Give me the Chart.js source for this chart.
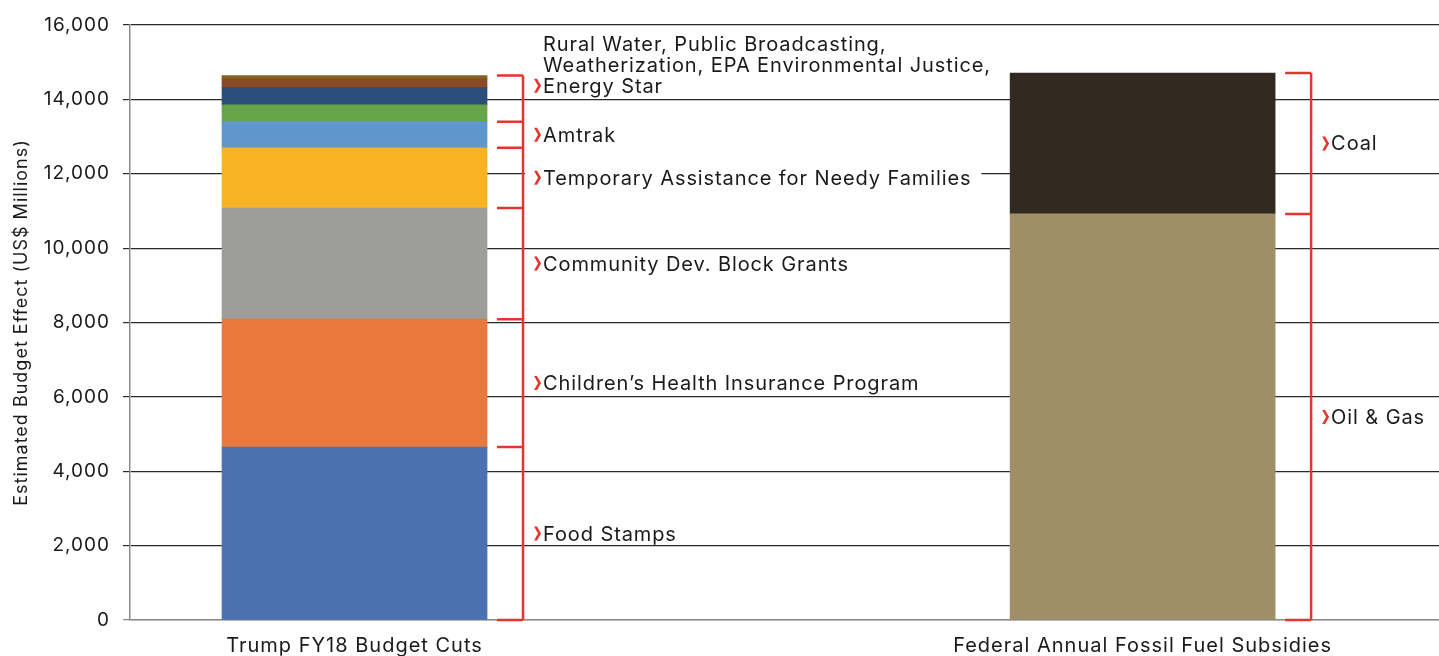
<!DOCTYPE html>
<html>
<head>
<meta charset="utf-8">
<script src="https://cdn.jsdelivr.net/npm/chart.js@4"></script>
<style>
  html, body { margin: 0; padding: 0; background: #fff; }
</style>
</head>
<body>
<canvas id="myChart" width="1439" height="656"></canvas>
<script>
// Two stacked columns: proposed FY18 cuts vs. annual fossil fuel subsidies (US$ millions)
const categories = ['Trump FY18 Budget Cuts', 'Federal Annual Fossil Fuel Subsidies'];

const budgetCutPrograms = ['Food Stamps', 'Children\u2019s Health Insurance Program', 'Community Dev. Block Grants',
    'Temporary Assistance for Needy Families', 'Amtrak', 'Rural Water', 'Public Broadcasting',
    'Weatherization', 'EPA Environmental Justice, Energy Star'];
const budgetCutValues = [4650, 3440, 2990, 1620, 700, 450, 465, 235, 90];
const budgetCutColors = ['#4a72b0', '#e8783e', '#9d9d9b', '#f9b224', '#5e97cc', '#67a348', '#2b4e78', '#8b4a22', '#806322'];

const subsidySources = ['Oil & Gas', 'Coal'];
const subsidyValues = [10920, 3790];
const subsidyColors = ['#a08e68', '#322a20'];

const yTicks = [0, 2000, 4000, 6000, 8000, 10000, 12000, 14000, 16000];

// bracket labels: which segments each bracket spans, and the text beside it
const cutLabels = [
    { from: 0, to: 0, text: ['Food Stamps'] },
    { from: 1, to: 1, text: ['Children\u2019s Health Insurance Program'] },
    { from: 2, to: 2, text: ['Community Dev. Block Grants'] },
    { from: 3, to: 3, text: ['Temporary Assistance for Needy Families'] },
    { from: 4, to: 4, text: ['Amtrak'] },
    { from: 5, to: 8, text: ['Rural Water, Public Broadcasting,', 'Weatherization, EPA Environmental Justice,', 'Energy Star'] }
];
const subsidyLabels = [
    { from: 0, to: 0, text: ['Oil & Gas'] },
    { from: 1, to: 1, text: ['Coal'] }
];

// the columns sit on a linear x axis so they can be spaced unevenly
const columnSlots = [1, 4.51];
const xMax = 5.83;
const barWidth = 265;

const fontFamily = 'Inter, "Open Sans", sans-serif';
const textColor = '#1a1a1a';
const bracketRed = '#e2362f';

function buildDatasets() {
    let datasets = [];
    budgetCutValues.forEach((v, i) => {
        datasets.push({
            label: budgetCutPrograms[i],
            data: [{ x: columnSlots[0], y: v }],
            backgroundColor: budgetCutColors[i]
        });
    });
    subsidyValues.forEach((v, i) => {
        datasets.push({
            label: subsidySources[i],
            data: [{ x: columnSlots[1], y: v }],
            backgroundColor: subsidyColors[i]
        });
    });
    return datasets;
}

function drawChevron(c, x, y) {
    c.beginPath();
    c.moveTo(x, y - 7);
    c.lineTo(x + 3, y - 7);
    c.lineTo(x + 7, y);
    c.lineTo(x + 3, y + 7);
    c.lineTo(x, y + 7);
    c.lineTo(x + 4, y);
    c.closePath();
    c.fill();
}

// slightly wider tracking for all chart text
const trackingPlugin = {
    id: 'tracking',
    beforeLayout(chart) { chart.ctx.letterSpacing = '1px'; },
    beforeDraw(chart) { chart.ctx.letterSpacing = '1px'; }
};

// red brackets with chevron labels to the right of each column
const bracketPlugin = {
    id: 'brackets',
    afterDatasetsDraw(chart) {
        const c = chart.ctx;
        const xs = chart.scales.x;
        const ys = chart.scales.y;
        const columns = [
            { slot: columnSlots[0], values: budgetCutValues, labels: cutLabels },
            { slot: columnSlots[1], values: subsidyValues, labels: subsidyLabels }
        ];

        c.save();
        columns.forEach(col => {
            let bounds = [0];
            let sum = 0;
            col.values.forEach(v => { sum += v; bounds.push(sum); });

            const barRight = xs.getPixelForValue(col.slot) + barWidth / 2;
            const tickStart = barRight + 10;
            const spine = barRight + 36;

            c.strokeStyle = bracketRed;
            c.lineWidth = 2.5;
            c.beginPath();
            c.moveTo(spine, ys.getPixelForValue(0));
            c.lineTo(spine, ys.getPixelForValue(sum));
            col.labels.forEach(lab => {
                [bounds[lab.from], bounds[lab.to + 1]].forEach(b => {
                    const py = ys.getPixelForValue(b);
                    c.moveTo(tickStart, py);
                    c.lineTo(spine, py);
                });
            });
            c.stroke();

            c.font = '20px ' + fontFamily;
            c.letterSpacing = '0.9px';
            c.textBaseline = 'middle';
            c.textAlign = 'left';
            col.labels.forEach(lab => {
                const mid = ys.getPixelForValue((bounds[lab.from] + bounds[lab.to + 1]) / 2);
                const n = lab.text.length;
                const lastY = n > 1 ? mid - 13 : mid;
                const textX = spine + 20;
                const lineY = i => lastY - (n - 1 - i) * 21;

                // white backing so gridlines stop behind the text
                c.fillStyle = '#fff';
                lab.text.forEach((line, i) => {
                    const w = c.measureText(line).width;
                    c.fillRect(spine + 2, lineY(i) - 11, textX - spine + w + 8, 22);
                });
                c.fillStyle = textColor;
                lab.text.forEach((line, i) => {
                    c.fillText(line, textX, lineY(i) + 1);
                });
                c.fillStyle = bracketRed;
                drawChevron(c, spine + 11, lastY);
            });
        });
        c.restore();
    }
};

function createChart() {
    const ctx = document.getElementById('myChart').getContext('2d');

    new Chart(ctx, {
        type: 'bar',
        data: { datasets: buildDatasets() },
        options: {
            responsive: false,
            animation: false,
            layout: { padding: { top: 25, right: 0, bottom: 0, left: 0 } },
            datasets: { bar: { barThickness: barWidth, borderWidth: 0 } },
            plugins: {
                legend: { display: false },
                tooltip: { enabled: false }
            },
            scales: {
                x: {
                    type: 'linear',
                    min: 0,
                    max: xMax,
                    offset: false,
                    stacked: true,
                    grid: { display: false, drawTicks: false },
                    border: { color: '#8c8c8c', width: 1.5 },
                    afterBuildTicks: scale => {
                        scale.ticks = columnSlots.map(v => ({ value: v }));
                    },
                    afterFit: scale => { scale.height = 36; },
                    ticks: {
                        autoSkip: false,
                        maxRotation: 0,
                        padding: 14,
                        color: textColor,
                        font: { family: fontFamily, size: 20 },
                        callback: (value, index) => categories[index]
                    }
                },
                y: {
                    stacked: true,
                    min: 0,
                    max: 16000,
                    afterBuildTicks: scale => {
                        scale.ticks = yTicks.map(v => ({ value: v }));
                    },
                    afterFit: scale => { scale.width = 130; },
                    grid: {
                        color: ctx => ctx.tick && ctx.tick.value === 0 ? '#8c8c8c' : '#2a2a2a',
                        lineWidth: 1.2,
                        tickLength: 7
                    },
                    border: { color: '#8c8c8c', width: 1.5 },
                    ticks: {
                        padding: 13,
                        color: textColor,
                        font: { family: fontFamily, size: 19 },
                        callback: v => v.toLocaleString('en-US')
                    },
                    title: {
                        display: true,
                        text: 'Estimated Budget Effect (US$ Millions)',
                        color: textColor,
                        font: { family: fontFamily, size: 18 },
                        padding: { top: 11, bottom: 0 }
                    }
                }
            }
        },
        plugins: [trackingPlugin, bracketPlugin]
    });
}

document.addEventListener('DOMContentLoaded', createChart);
</script>
</body>
</html>
